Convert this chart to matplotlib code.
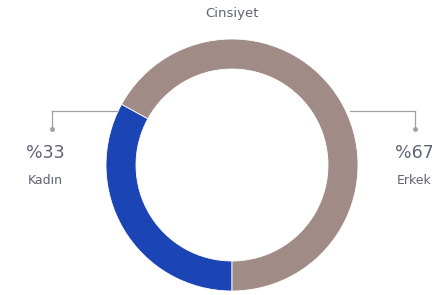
import matplotlib
matplotlib.use('Agg')
import matplotlib.pyplot as plt

plt.rcParams['font.family'] = ['DejaVu Sans']

# Data
labels = ['Kadın', 'Erkek']
values = [33, 67]
colors = ['#1b45b5', '#a08b86']
title = 'Cinsiyet'

W, H = 432, 295
fig = plt.figure(figsize=(W / 100, H / 100), dpi=100)
ax = fig.add_axes([0, 0, 1, 1])

# Donut (pixel coordinates, y up)
cx, cy, r = 232, 130, 126
ax.pie(values, colors=colors, startangle=-90, counterclock=False,
       center=(cx, cy), radius=r, frame=True,
       wedgeprops=dict(width=30, edgecolor='white', linewidth=0.6))
ax.set_xlim(0, W)
ax.set_ylim(0, H)
ax.set_aspect('equal')
ax.axis('off')

ax.text(cx, 282, title, ha='center', va='center', fontsize=9.5,
        color='#5f6375')

# Leader lines and labels
line_c = '#a0a0a8'
txt_c = '#5f6375'
left_x, right_x = 52, 415
ly = 184
ax.plot([left_x, 118], [ly, ly], color=line_c, lw=0.9)
ax.plot([left_x, left_x], [ly, 166], color=line_c, lw=0.9)
ax.plot([left_x], [166], 'o', ms=2.5, color=line_c)
ax.plot([350, right_x], [ly, ly], color=line_c, lw=0.9)
ax.plot([right_x, right_x], [ly, 166], color=line_c, lw=0.9)
ax.plot([right_x], [166], 'o', ms=2.5, color=line_c)

for x, lab, v in [(45, labels[0], values[0]), (414, labels[1], values[1])]:
    ax.text(x, 142, '%' + str(v), ha='center', va='center', fontsize=12.5,
            color=txt_c)
    ax.text(x, 115, lab, ha='center', va='center', fontsize=9,
            color=txt_c)

fig.savefig('out.png', dpi=100)
